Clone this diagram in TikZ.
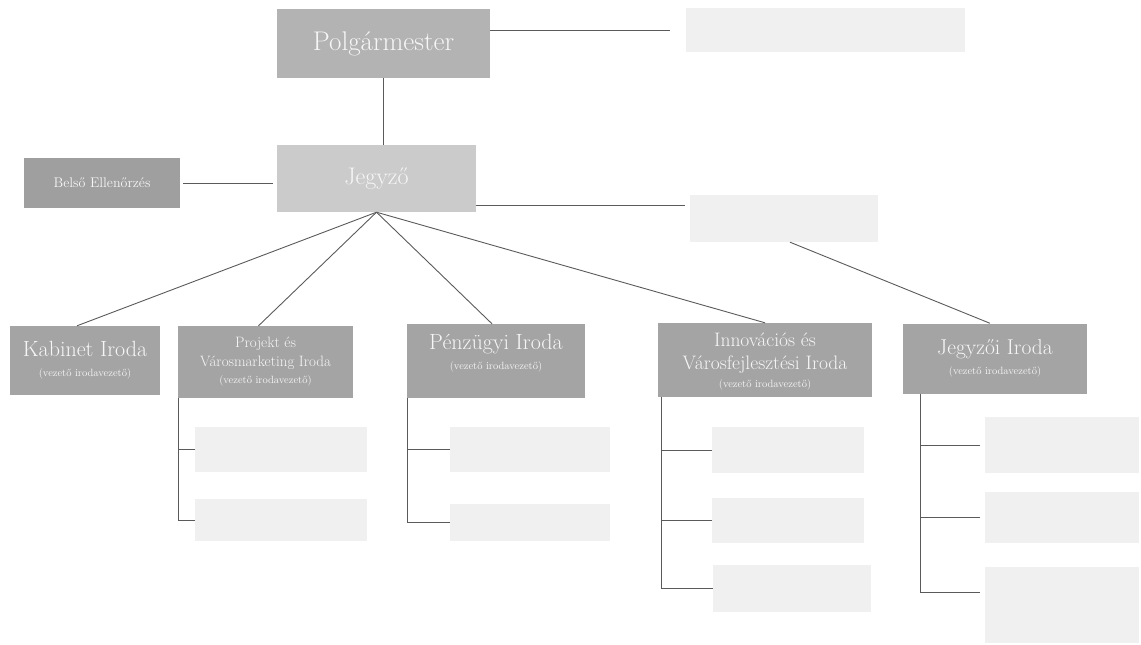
\documentclass[tikz,border=0pt]{standalone}
\usetikzlibrary{calc}
\definecolor{boxA}{HTML}{B3B3B3}
\definecolor{boxJ}{HTML}{CBCBCB}
\definecolor{boxB}{HTML}{9F9F9F}
\definecolor{boxO}{HTML}{A4A4A4}
\definecolor{boxL}{HTML}{F0F0F0}
\definecolor{txtW}{HTML}{F6F6F6}
\definecolor{lineC}{HTML}{5A5A5A}
\tikzset{
  base/.style={rectangle, inner sep=0pt, align=center, text=txtW, font=\rmfamily},
  topbox/.style={base, fill=boxA},
  jbox/.style={base, fill=boxJ},
  bbox/.style={base, fill=boxB},
  office/.style={base, fill=boxO},
  light/.style={base, fill=boxL},
  conn/.style={draw=lineC, line width=0.9pt}
}
\newcommand{\sub}[1]{{\fontsize{10.5}{12}\selectfont #1}}
\begin{document}
\begin{tikzpicture}[x=1pt,y=-1pt]
\useasboundingbox (0,0) rectangle (1141,645);
% top level
\node[topbox, minimum width=213pt, minimum height=69pt, font=\rmfamily\fontsize{27}{30}\selectfont] (P) at (383.5,43.5) {Polgármester};
\node[light, minimum width=279pt, minimum height=44pt] (R1) at (825.5,30) {};
\node[jbox, minimum width=199pt, minimum height=67pt, font=\rmfamily\fontsize{24}{28}\selectfont] (J) at (376.5,178.5) {Jegyző};
\node[bbox, minimum width=156pt, minimum height=50pt, font=\rmfamily\fontsize{14}{16}\selectfont] (B) at (102,183) {Belső Ellenőrzés};
\node[light, minimum width=188pt, minimum height=47pt] (R2) at (784,218.5) {};
% offices
\node[office, minimum width=150pt, minimum height=69pt, font=\rmfamily\fontsize{22}{24}\selectfont] (K) at (85,360.5) {Kabinet Iroda\\[-4pt]\sub{(vezető irodavezető)}};
\node[office, minimum width=175pt, minimum height=72pt, font=\rmfamily\fontsize{15}{19}\selectfont] (PV) at (265.5,362) {Projekt és\\Városmarketing Iroda\\[-2pt]\sub{(vezető irodavezető)}};
\node[office, minimum width=178pt, minimum height=74pt, font=\rmfamily\fontsize{22}{24}\selectfont] (PI) at (496,361) {Pénzügyi Iroda\\[-4pt]\sub{(vezető irodavezető)}\\[-6pt]\mbox{}};
\node[office, minimum width=214pt, minimum height=74pt, font=\rmfamily\fontsize{19.5}{23}\selectfont] (IV) at (765,360) {\rule{0pt}{16pt}Innovációs és\\Városfejlesztési Iroda\\[-5pt]\sub{(vezető irodavezető)}};
\node[office, minimum width=184pt, minimum height=70pt, font=\rmfamily\fontsize{21.5}{24}\selectfont] (JI) at (995,358.5) {Jegyzői Iroda\\[-4pt]\sub{(vezető irodavezető)}};
% sub boxes
\node[light, minimum width=172pt, minimum height=45pt] (PV1) at (281,449.5) {};
\node[light, minimum width=172pt, minimum height=42pt] (PV2) at (281,520) {};
\node[light, minimum width=160pt, minimum height=45pt] (PI1) at (530,449.5) {};
\node[light, minimum width=160pt, minimum height=37pt] (PI2) at (530,522.5) {};
\node[light, minimum width=152pt, minimum height=46pt] (IV1) at (788,450) {};
\node[light, minimum width=152pt, minimum height=45pt] (IV2) at (788,520.5) {};
\node[light, minimum width=158pt, minimum height=47pt] (IV3) at (792,588.5) {};
\node[light, minimum width=154pt, minimum height=56pt] (JI1) at (1062,445) {};
\node[light, minimum width=154pt, minimum height=51pt] (JI2) at (1062,517.5) {};
\node[light, minimum width=154pt, minimum height=76pt] (JI3) at (1062,605) {};
% connectors top
\draw[conn] (P.east |- R1.west) -- ([xshift=-16pt]R1.west);
\draw[conn] (P.south) -- (P.south |- J.north);
\draw[conn] ([xshift=3pt]B.east) -- ([xshift=-4pt]B.east -| J.west);
\draw[conn] ([yshift=7pt]J.south east) -- ([xshift=-5pt,yshift=7pt]J.south east -| R2.west);
% fan
\draw[conn] (J.south) -- ([xshift=-8pt]K.north);
\draw[conn] (J.south) -- ([xshift=-7pt]PV.north);
\draw[conn] (J.south) -- ([xshift=-4pt]PI.north);
\draw[conn] (J.south) -- (IV.north);
\draw[conn] ([xshift=6pt]R2.south) -- ([xshift=-5pt]JI.north);
% trees
\draw[conn] ([xshift=1pt]PV.south west) -- ([xshift=1pt]PV.south west |- PV2.west) -- (PV2.west);
\draw[conn] ([xshift=1pt]PV.south west |- PV1.west) -- (PV1.west);
\draw[conn] ([xshift=1pt]PI.south west) -- ([xshift=1pt]PI.south west |- PI2.west) -- (PI2.west);
\draw[conn] ([xshift=1pt]PI.south west |- PI1.west) -- (PI1.west);
\draw[conn] ([xshift=4pt]IV.south west) -- ([xshift=4pt]IV.south west |- IV3.west) -- (IV3.west);
\draw[conn] ([xshift=4pt]IV.south west |- IV1.west) -- (IV1.west);
\draw[conn] ([xshift=4pt]IV.south west |- IV2.west) -- (IV2.west);
\draw[conn] ([xshift=18pt]JI.south west) -- ([xshift=18pt]JI.south west |- 0,592) -- ([xshift=-5pt]JI3.west |- 0,592);
\draw[conn] ([xshift=18pt]JI.south west |- JI1.west) -- ([xshift=-5pt]JI1.west);
\draw[conn] ([xshift=18pt]JI.south west |- JI2.west) -- ([xshift=-5pt]JI2.west);
\end{tikzpicture}
\end{document}
